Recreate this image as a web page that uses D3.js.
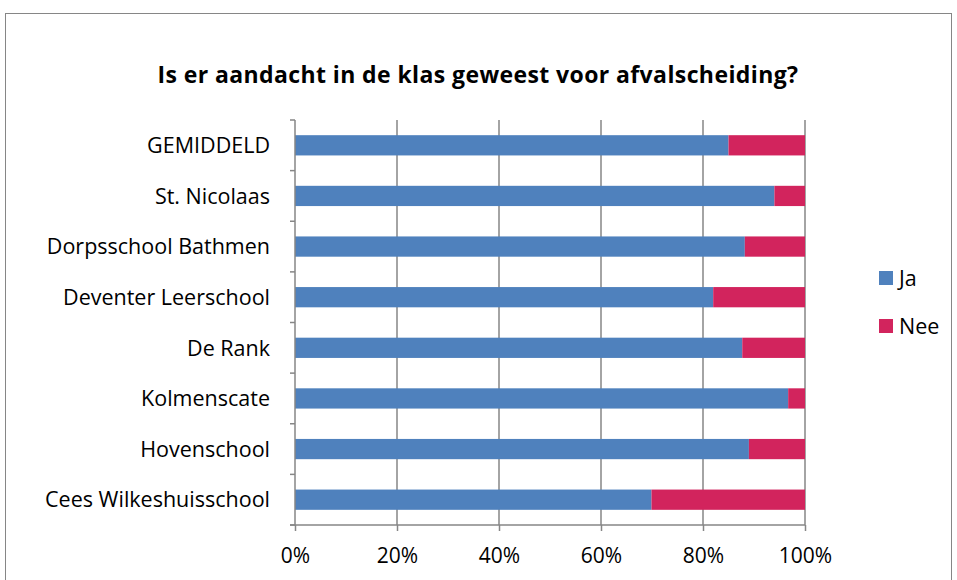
<!DOCTYPE html>
<html><head><meta charset="utf-8">
<script src="https://cdn.jsdelivr.net/npm/d3@7"></script>
<style>body{margin:0;background:#fff;} svg{display:block;} text{font-family:"Open Sans",sans-serif;}</style>
</head><body>
<svg id="c" width="957" height="580"></svg>
<script>
const title = "Is er aandacht in de klas geweest voor afvalscheiding?";
const categories = ["GEMIDDELD","St. Nicolaas","Dorpsschool Bathmen","Deventer Leerschool","De Rank","Kolmenscate","Hovenschool","Cees Wilkeshuisschool"];
const ja  = [85.0, 94.0, 88.2, 82.0, 87.7, 96.7, 89.0, 69.9];
const nee = [15.0, 6.0, 11.8, 18.0, 12.3, 3.3, 11.0, 30.1];
const seriesNames = ["Ja","Nee"];
const colors = ["#4F81BD","#D2245D"];
const tickValues = [0,20,40,60,80,100];

const svg = d3.select("#c");
const gridCol = "#868686";
svg.append("rect").attr("x",5.5).attr("y",13.5).attr("width",946).attr("height",580).attr("fill","#fff").attr("stroke",gridCol).attr("stroke-width",1);

svg.append("text").attr("x",478).attr("y",83).attr("text-anchor","middle")
  .style("font-weight","bold").style("font-size","23px").style("letter-spacing","0.4px").text(title);

const x = d3.scaleLinear().domain([0,100]).range([295,805]);
const y = d3.scaleBand().domain(categories).range([120,525]).paddingInner(0.6).paddingOuter(0.3);

// gridlines
svg.append("g").selectAll("line").data(tickValues.slice(1)).join("line")
  .attr("x1",d=>x(d)).attr("x2",d=>x(d)).attr("y1",120).attr("y2",525)
  .attr("stroke",gridCol).attr("stroke-width",1.5);

// stacked data
const rows = categories.map((c,i)=>({cat:c,Ja:ja[i],Nee:nee[i]}));
const stack = d3.stack().keys(seriesNames)(rows);
svg.append("g").selectAll("g").data(stack).join("g").attr("fill",(d,i)=>colors[i])
  .selectAll("rect").data(d=>d).join("rect")
  .attr("x",d=>x(d[0])).attr("width",d=>x(d[1])-x(d[0]))
  .attr("y",d=>y(d.data.cat)).attr("height",y.bandwidth());

// x axis
const xAxis = d3.axisBottom(x).tickValues(tickValues).tickFormat(d=>d+"%").tickSize(6).tickPadding(17);
const gx = svg.append("g").attr("transform","translate(0,525)").call(xAxis);
gx.select(".domain").attr("stroke",gridCol).attr("stroke-width",1.5).attr("d","M290,0H805");
gx.selectAll(".tick line").attr("stroke",gridCol).attr("stroke-width",1.5);
gx.selectAll(".tick text").style("font-size","21px").style("font-family","Open Sans").attr("fill","#000");

// y axis with ticks at band boundaries
const bounds = d3.range(categories.length+1).map(i=>120+i*(405/categories.length));
const gy = svg.append("g");
gy.append("line").attr("x1",295).attr("x2",295).attr("y1",120).attr("y2",525).attr("stroke",gridCol).attr("stroke-width",1.5);
gy.selectAll("line.t").data(bounds).join("line").attr("class","t")
  .attr("x1",290).attr("x2",295).attr("y1",d=>d).attr("y2",d=>d).attr("stroke",gridCol).attr("stroke-width",1.5);
gy.selectAll("text").data(categories).join("text")
  .attr("x",270).attr("y",d=>y(d)+y.bandwidth()/2).attr("dy","0.36em").attr("text-anchor","end")
  .style("font-size","21.5px").text(d=>d);

// legend
const lg = svg.append("g");
seriesNames.forEach((s,i)=>{
  lg.append("rect").attr("x",879).attr("y",271+i*48).attr("width",14).attr("height",14).attr("fill",colors[i]);
  lg.append("text").attr("x",899).attr("y",278+i*48).attr("dy","0.36em").style("font-size","21.5px").text(s);
});
</script>
</body></html>
